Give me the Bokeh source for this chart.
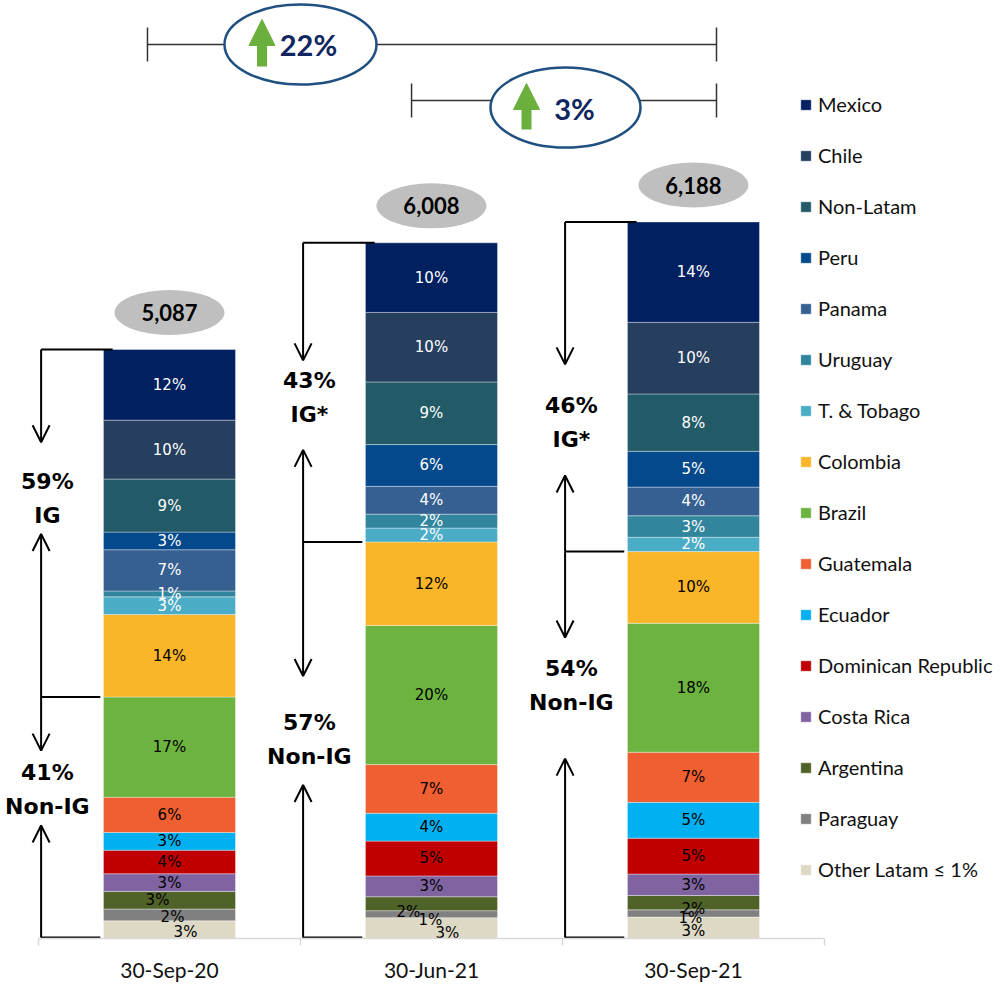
from bokeh.plotting import figure
from bokeh.models import (ColumnDataSource, FixedTicker, Legend, LegendItem,
                          Arrow, OpenHead, NormalHead, Range1d)
from bokeh.core.properties import value
from bokeh.embed import file_html
from bokeh.resources import INLINE

# ---------------- data ----------------
dates = ["30-Sep-20", "30-Jun-21", "30-Sep-21"]
totals = [5087, 6008, 6188]

countries = ["Mexico", "Chile", "Non-Latam", "Peru", "Panama", "Uruguay",
             "T. & Tobago", "Colombia", "Brazil", "Guatemala", "Ecuador",
             "Dominican Republic", "Costa Rica", "Argentina", "Paraguay",
             "Other Latam \u2264 1%"]

mexico = [12, 10, 14]
chile = [10, 10, 10]
non_latam = [9, 9, 8]
peru = [3, 6, 5]
panama = [7, 4, 4]
uruguay = [1, 2, 3]
tobago = [3, 2, 2]
colombia = [14, 12, 10]
brazil = [17, 20, 18]
guatemala = [6, 7, 7]
ecuador = [3, 4, 5]
dominican = [4, 5, 5]
costa_rica = [3, 3, 3]
argentina = [3, 2, 2]
paraguay = [2, 1, 1]
other = [3, 3, 3]

ig_share = [59, 43, 46]
non_ig_share = [41, 57, 54]
ig_names = ["IG", "IG*", "IG*"]

shares = [mexico, chile, non_latam, peru, panama, uruguay, tobago, colombia,
          brazil, guatemala, ecuador, dominican, costa_rica, argentina,
          paraguay, other]

# ---------------- styles ----------------
colors = ["#002060", "#263F5F", "#225A68", "#03498C", "#366092", "#31859C",
          "#4BACC6", "#FBB528", "#6DB33F", "#EF5F32", "#00B0F0", "#C00000",
          "#8064A2", "#4F6228", "#808080", "#DDD9C4"]
label_colors = ["white"] * 7 + ["black"] * 9

FRAME_W, FRAME_H = 1000, 938
X_MIN, X_MAX = -0.645, 3.172
Y_MAX = 8101.0
PPX = FRAME_W / (X_MAX - X_MIN)       # screen px per x unit
UPP = Y_MAX / FRAME_H                 # y units per screen px


def xs(px):
    return X_MIN + px / PPX


def ys(px):
    return (FRAME_H - px) * UPP


BAR_W = 0.504

p = figure(frame_width=FRAME_W, frame_height=FRAME_H,
           x_range=Range1d(X_MIN, X_MAX), y_range=Range1d(0, Y_MAX),
           y_axis_location=None, toolbar_location=None, output_backend="svg",
           min_border_left=0, min_border_right=0, min_border_top=0,
           min_border_bottom=48, outline_line_color=None,
           background_fill_color="white", border_fill_color="white")
p.grid.visible = False

ax = p.xaxis[0]
ax.ticker = FixedTicker(ticks=[0, 1, 2], minor_ticks=[-0.5, 0.5, 1.5, 2.5])
ax.major_label_overrides = {i: d for i, d in enumerate(dates)}
ax.bounds = (-0.5, 2.5)
ax.axis_line_color = "#D9D9D9"
ax.axis_line_width = 1.5
ax.major_tick_line_color = None
ax.major_tick_out = 0
ax.major_tick_in = 0
ax.minor_tick_line_color = "#D9D9D9"
ax.minor_tick_line_width = 1.5
ax.minor_tick_out = 7
ax.minor_tick_in = 0
ax.major_label_standoff = 11
ax.major_label_text_font = "Lato"
ax.major_label_text_font_size = "21px"
ax.major_label_text_color = "#111111"

# ---------------- stacked bars ----------------
keys = ["c%d" % k for k in range(len(countries))]
data = {"x": [0, 1, 2]}
for k, s in zip(keys, shares):
    data[k] = [v * t / 100.0 for v, t in zip(s, totals)]
src = ColumnDataSource(data)

renderers = p.vbar_stack(keys[::-1], x="x", width=BAR_W, color=colors[::-1],
                         line_color="white", line_alpha=0.45, line_width=0.8,
                         source=src)

# segment labels
label_shift = {  # (bar, country index) -> (dx px, dy px)
    (0, 13): (-12, 0), (0, 14): (3, 2), (0, 15): (16, 2),
    (1, 13): (-23, 8), (1, 14): (-1, 6), (1, 15): (16, 5),
    (2, 13): (0, 6), (2, 14): (-3, 5), (2, 15): (0, 3),
}
lx, ly, lt, lc, ldx, ldy = [], [], [], [], [], []
for b in range(3):
    base = 0.0
    for ci in range(len(countries) - 1, -1, -1):
        h = shares[ci][b] * totals[b] / 100.0
        lx.append(b)
        ly.append(base + h / 2)
        lt.append("%d%%" % shares[ci][b])
        lc.append(label_colors[ci])
        dx, dy = label_shift.get((b, ci), (0, 0))
        ldx.append(dx)
        ldy.append(dy)
        base += h
lsrc = ColumnDataSource(dict(x=lx, y=ly, t=lt, c=lc, dx=ldx, dy=ldy))
p.text(x="x", y="y", text="t", text_color="c", x_offset="dx", y_offset="dy",
       source=lsrc, text_align="center", text_baseline="middle",
       text_font=value("DejaVu Sans"), text_font_size="15px")

# ---------------- legend ----------------
items = [LegendItem(label=c, renderers=[r])
         for c, r in zip(countries, renderers[::-1])]
legend = Legend(items=items, location=(799, 57), glyph_width=13,
                glyph_height=13, label_height=24, spacing=27, padding=0,
                margin=0, border_line_color=None, background_fill_alpha=0,
                label_text_font="Lato", label_text_font_size="20px",
                label_standoff=6, label_text_color="#111111")
p.add_layout(legend)

# ---------------- totals bubbles ----------------
tot_y = [t + 37 * UPP for t in totals]
p.ellipse(x=[0, 1, 2], y=tot_y, width=110, height=45, width_units="screen",
          height_units="screen", fill_color="#BFBFBF", line_color=None)
p.text(x=[0, 1, 2], y=tot_y, text=["{:,}".format(t) for t in totals],
       text_align="center", text_baseline="middle",
       text_font=value("Lato"), text_font_style="bold",
       text_font_size="22px", text_color="black")

# ---------------- IG / Non-IG brackets ----------------
# fractions along each range (layout)
d1f = [0.267, 0.393, 0.432]
t1f = [0.43, 0.518, 0.607]
u1f = [0.531, 0.692, 0.769]
d2f = [0.222, 0.338, 0.222]
t2f = [0.383, 0.497, 0.347]
u2f = [0.532, 0.613, 0.535]

XV = -0.49
XT = -0.466
seg_x0, seg_y0, seg_x1, seg_y1 = [], [], [], []
txt_x, txt_y, txt_t, txt_off = [], [], [], []
for i in range(3):
    top = totals[i]
    bnd = totals[i] * non_ig_share[i] / 100.0
    bot = 1.0 * UPP
    xv = i + XV
    seg_x0 += [xv, xv, xv]
    seg_y0 += [top, bnd, bot]
    seg_x1 += [i - BAR_W / 2 + 0.035, i - BAR_W / 2 - 0.012, i - BAR_W / 2 - 0.012]
    seg_y1 += [top, bnd, bot]
    ig_rng = top - bnd
    ni_rng = bnd
    d1 = top - d1f[i] * ig_rng
    u1 = top - u1f[i] * ig_rng
    d2 = bnd - d2f[i] * ni_rng
    u2 = bnd - u2f[i] * ni_rng
    for (ys0, ys1) in [(top, d1), (bnd, u1), (bnd, d2), (bot, u2)]:
        p.add_layout(Arrow(end=OpenHead(size=17, line_width=2, line_color="black"),
                           x_start=xv, y_start=ys0, x_end=xv, y_end=ys1,
                           line_width=2, line_color="black"))
    c1 = top - t1f[i] * ig_rng
    c2 = bnd - t2f[i] * ni_rng
    txt_x += [i + XT] * 4
    txt_y += [c1, c1, c2, c2]
    txt_t += ["%d%%" % ig_share[i], ig_names[i], "%d%%" % non_ig_share[i], "Non-IG"]
    txt_off += [-17, 17, -17, 17]

p.segment(x0=seg_x0, y0=seg_y0, x1=seg_x1, y1=seg_y1, line_color="black",
          line_width=2)
p.text(x=txt_x, y=txt_y, text=txt_t, y_offset=txt_off, text_align="center",
       text_baseline="middle", text_font=value("DejaVu Sans"),
       text_font_style="bold", text_font_size="22px", text_color="black")

# ---------------- growth brackets ----------------
g_all = round((totals[2] / totals[0] - 1) * 100)
g_q = round((totals[2] / totals[1] - 1) * 100)

l1y, l2y = ys(44), ys(100)
bx0, bx1, bx2 = -0.084, 2.088, 0.924
p.segment(x0=[bx0, bx2], y0=[l1y, l2y], x1=[bx1, bx1], y1=[l1y, l2y],
          line_color="#333333", line_width=1.5)
tick_h = 17 * UPP
p.segment(x0=[bx0, bx1, bx2, bx1],
          y0=[l1y - tick_h, l1y - tick_h, l2y - tick_h, l2y - tick_h],
          x1=[bx0, bx1, bx2, bx1],
          y1=[l1y + tick_h, l1y + tick_h, l2y + tick_h, l2y + tick_h],
          line_color="#333333", line_width=1.5)

p.ellipse(x=[xs(300), xs(565)], y=[ys(44), ys(107)], width=[152, 150],
          height=[80, 80], width_units="screen", height_units="screen",
          fill_color="white", line_color="#1F5081", line_width=2.5)

green = "#6BB03D"
for ax_px, yb, yt in [(261.5, 66, 19), (526, 129, 83)]:
    p.add_layout(Arrow(end=NormalHead(size=26, fill_color=green,
                                      line_color=green, line_width=1),
                       x_start=xs(ax_px), y_start=ys(yb), x_end=xs(ax_px),
                       y_end=ys(yt), line_width=10, line_color=green,
                       line_cap="butt"))

p.text(x=[xs(308), xs(574)], y=[ys(44), ys(108)],
       text=["%d%%" % g_all, "%d%%" % g_q], text_align="center",
       text_baseline="middle", text_font=value("Lato"),
       text_font_style="bold", text_font_size="29px", text_color="#0F2660")

open("out.html", "w").write(file_html(p, INLINE))
